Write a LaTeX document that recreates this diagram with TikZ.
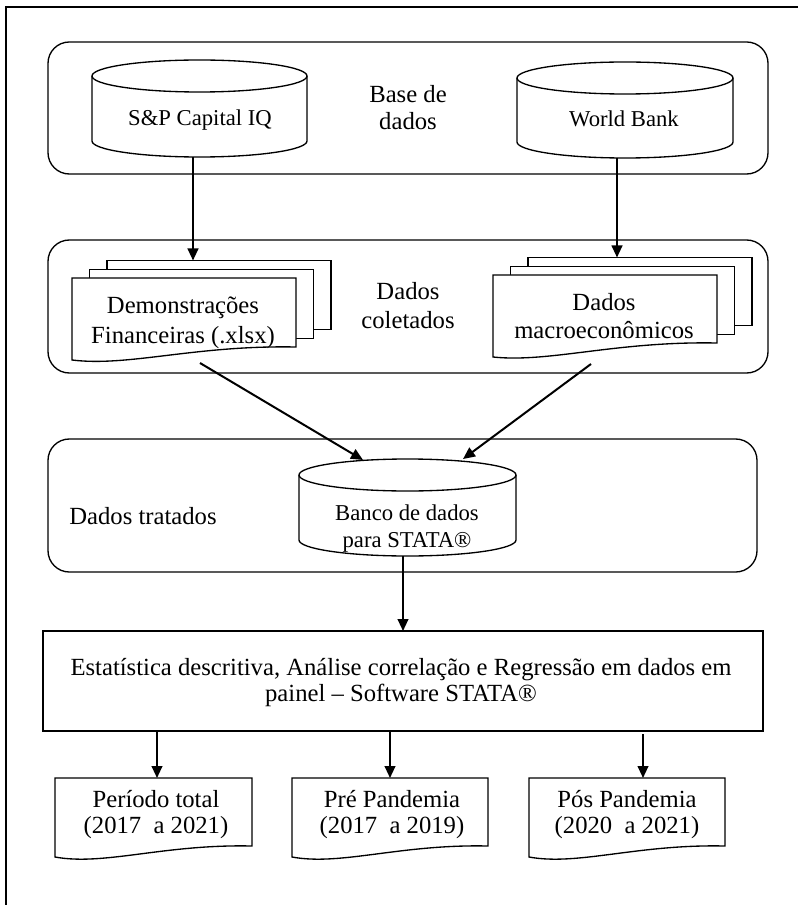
\documentclass[tikz,border=0pt]{standalone}
\usepackage{fontspec}
\setmainfont{Liberation Serif}
\usetikzlibrary{calc,arrows.meta}
\newcommand\cylshape[3]{%
  \filldraw[box,fill=white] ($(#1.north west)+(0,#3)$) -- ($(#1.south west)+(0,-#3)$)
    arc[start angle=180,end angle=0,x radius=#2,y radius=#3] -- ($(#1.north east)+(0,#3)$);
  \draw[box] ($(#1.north)+(0,#3)$) ellipse[x radius=#2,y radius=#3];}
\newcommand\docpath[2]{%
  \filldraw[box,fill=white] (#1.south east) -- (#1.north east) -- (#1.north west)
    -- ($(#1.south west)+(0,#2)$)
    .. controls ($(#1.south west)!0.25!(#1.south east)+(0,20)$) and ($(#1.south west)!0.55!(#1.south east)+(0,-2)$)
    .. (#1.south east) -- cycle;}
\newcommand\stackback[1]{%
  \filldraw[box,fill=white] ($(#1.north west)+(35,-17.5)$) rectangle ($(#1.south east)+(35,-17.5)$);
  \filldraw[box,fill=white] ($(#1.north west)+(17.5,-8.75)$) rectangle ($(#1.south east)+(17.5,-8.75)$);}
\begin{document}
\begin{tikzpicture}[x=0.75pt,y=-0.75pt,
  box/.style={line width=1pt},
  cont/.style={draw,line width=1pt,rounded corners=16pt,inner sep=0,outer sep=0},
  ghost/.style={inner sep=0,outer sep=0,draw=none},
  lbl/.style={font=\fontsize{18.5}{20.25}\selectfont,align=center,inner sep=0,anchor=base},
  arr/.style={line width=1.5pt,-{Triangle[length=9pt,width=8pt]}},
  frame/.style={line width=1.6pt}]
\useasboundingbox (0,0) rectangle (798,905);
\draw[frame] (6,906) -- (6,7) -- (799,7);
% containers
\node[cont,minimum width=540pt,minimum height=99pt] (base) at (408,108) {};
\node[cont,minimum width=540pt,minimum height=99.75pt] (col) at (408,306.5) {};
\node[cont,minimum width=531.75pt,minimum height=99.75pt] (trat) at (402.5,505.5) {};
\node[draw,line width=1pt,inner sep=0,outer sep=0,minimum width=540pt,minimum height=75pt] (est) at (403,681) {};
% geometry nodes
\node[ghost,minimum width=161.25pt,minimum height=72.75pt] (sp) at (199.5,108.5) {};
\node[ghost,minimum width=162pt,minimum height=72pt] (wb) at (625,110) {};
\node[ghost,minimum width=162.75pt,minimum height=72.75pt] (banco) at (407.5,507.5) {};
\node[ghost,minimum width=168pt,minimum height=51.75pt] (fin) at (184,312.5) {};
\node[ghost,minimum width=168pt,minimum height=51pt] (mac) at (605,309) {};
\node[ghost,minimum width=147.75pt,minimum height=51pt] (doc1) at (153.5,812) {};
\node[ghost,minimum width=147pt,minimum height=51pt] (doc2) at (390,812) {};
\node[ghost,minimum width=147pt,minimum height=51pt] (doc3) at (627,812) {};
% shapes
\cylshape{sp}{107.5}{16}
\cylshape{wb}{108}{16}
\cylshape{banco}{108.5}{16}
\stackback{fin}
\docpath{fin}{13}
\stackback{mac}
\docpath{mac}{14}
\docpath{doc1}{11}
\docpath{doc2}{11}
\docpath{doc3}{11}
% texts (anchor = baseline of the last line)
\node[lbl] (base-t) at (408,130) {Base de\\dados};
\node[lbl,font=\fontsize{18.5}{21}\selectfont] (col-t) at (408,328) {Dados\\coletados};
\node[lbl] (trat-t) at (143,524) {Dados tratados};
\node[lbl,font=\fontsize{17}{20.25}\selectfont] (sp-t) at (200,126) {S\&P Capital IQ};
\node[lbl,font=\fontsize{17}{20.25}\selectfont] (wb-t) at (624,127) {World Bank};
\node[lbl,font=\fontsize{17}{20.25}\selectfont] (banco-t) at (407,547) {Banco de dados\\para STATA®};
\node[lbl,font=\fontsize{18.5}{22.5}\selectfont] (fin-t) at (183,343) {Demonstrações\\Financeiras (.xlsx)};
\node[lbl,font=\fontsize{18.5}{21}\selectfont] (mac-t) at (604,338) {Dados\\macroeconômicos};
\node[lbl,font=\fontsize{18.5}{19.5}\selectfont] (est-t) at (401,701) {Estatística descritiva, Análise correlação e Regressão em dados em\\painel – Software STATA®};
\node[lbl,font=\fontsize{18.5}{19.5}\selectfont] (doc1-t) at (156,833) {Período total\\(2017 \ a 2021)};
\node[lbl,font=\fontsize{18.5}{19.5}\selectfont] (doc2-t) at (392,833) {Pré Pandemia\\(2017 \ a 2019)};
\node[lbl,font=\fontsize{18.5}{19.5}\selectfont] (doc3-t) at (627,833) {Pós Pandemia\\(2020 \ a 2021)};
% connector end points
\coordinate (a1s) at ($(sp.south)+(-6.5,0)$);
\coordinate (finTop) at ($(fin.north)+(0,-17.5)$);
\coordinate (a2s) at ($(wb.south)+(-8,0)$);
\coordinate (macTop) at ($(mac.north)+(0,-17.5)$);
\coordinate (a3s) at ($(fin.south)+(16,16)$);
\coordinate (a3e) at ($(banco.north)+(-44.5,1)$);
\coordinate (a4s) at ($(mac.south)+(-14,21)$);
\coordinate (a4e) at ($(banco.north)+(55.5,0)$);
\coordinate (a5s) at ($(banco.south)+(-4.5,0)$);
\coordinate (d1in) at ($(doc1.north)+(3.5,0)$);
\coordinate (d3in) at ($(doc3.north)+(16,0)$);
% connectors
\draw[arr] (a1s) -- (a1s |- finTop);
\draw[arr] (a2s) -- (a2s |- macTop);
\draw[arr] (a3s) -- (a3e);
\draw[arr] (a4s) -- (a4e);
\draw[arr] (a5s) -- (a5s |- est.north);
\draw[arr] (est.south -| d1in) -- (d1in);
\draw[arr] (est.south -| doc2.north) -- (doc2.north);
\draw[arr] ($(est.south -| d3in)+(0,3)$) -- (d3in);
\end{tikzpicture}
\end{document}
